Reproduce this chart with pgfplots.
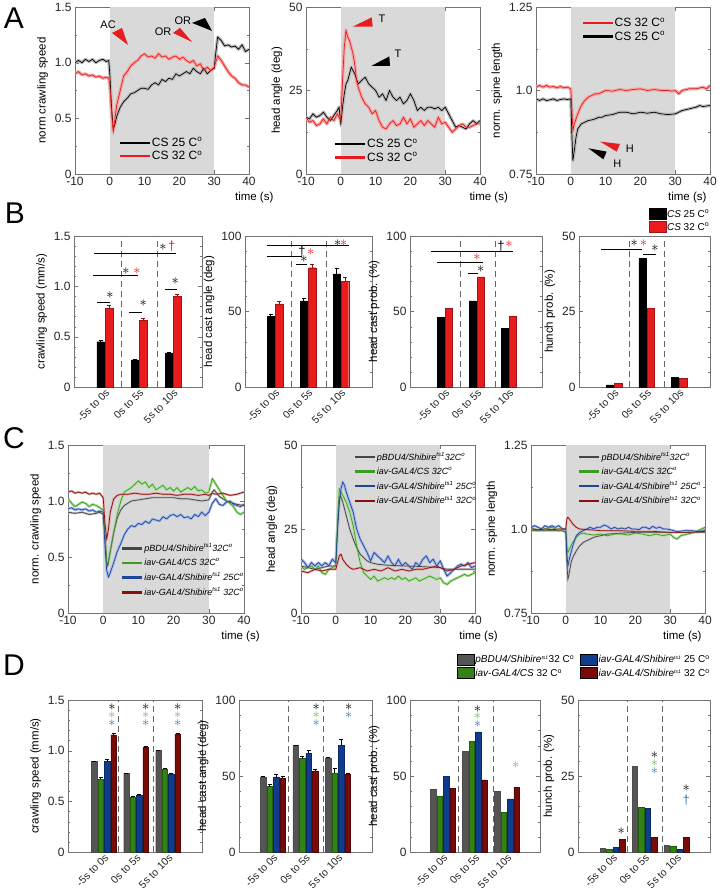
\documentclass[border=0pt]{standalone}
\usepackage{pgfplots}
\usepackage{pgfplotstable}
\pgfplotsset{compat=1.18}
\usepackage{fontspec}
\setmainfont{Liberation Sans}

\definecolor{shade}{RGB}{217,217,217}
\definecolor{cred}{RGB}{232,28,28}
\definecolor{bandk}{RGB}{185,185,185}
\definecolor{bandr}{RGB}{244,165,165}
\definecolor{lgray}{RGB}{70,70,70}
\definecolor{lgreen}{RGB}{60,155,35}
\definecolor{lblue}{RGB}{30,70,155}
\definecolor{lred}{RGB}{135,15,15}
\definecolor{bgray}{RGB}{190,190,190}
\definecolor{bgreen}{RGB}{175,225,155}
\definecolor{bblue}{RGB}{165,185,235}
\definecolor{bred}{RGB}{225,165,165}
\definecolor{dgray}{RGB}{85,85,85}
\definecolor{dgreen}{RGB}{50,130,20}
\definecolor{dblue}{RGB}{15,60,140}
\definecolor{dred}{RGB}{120,10,10}
\definecolor{sgreen}{RGB}{110,185,80}
\definecolor{sblue}{RGB}{65,115,185}

% ---------------- A data ----------------
\pgfplotstableread{
x y
-10 1.00
-9 1.02
-8 1.00
-7 1.03
-6 1.01
-5 1.03
-4 1.00
-3 1.02
-2 1.03
-1 1.01
-0.3 1.02
0 0.90
0.5 0.60
1 0.40
1.5 0.45
2 0.52
3 0.60
4 0.65
5 0.68
6 0.72
7 0.73
8 0.75
9 0.77
10 0.77
11 0.76
12 0.80
13 0.82
14 0.80
15 0.85
16 0.83
17 0.86
18 0.85
19 0.90
20 0.88
21 0.90
22 0.92
23 0.90
24 0.95
25 0.92
26 0.90
27 0.95
28 0.90
29 0.93
30 0.95
30.5 1.10
31 1.23
32 1.20
33 1.15
34 1.16
35 1.14
36 1.15
37 1.12
38 1.16
39 1.10
40 1.12
}\tAonek
\pgfplotstableread{
x y
-10 0.90
-9 0.92
-8 0.89
-7 0.90
-6 0.88
-5 0.89
-4 0.87
-3 0.88
-2 0.86
-1 0.87
-0.3 0.86
0 0.80
0.5 0.55
1 0.38
1.5 0.50
2 0.62
3 0.75
4 0.88
5 0.92
6 0.97
7 1.00
8 1.02
9 1.06
10 1.08
11 1.05
12 1.06
13 1.04
14 1.08
15 1.05
16 1.06
17 1.03
18 1.05
19 1.06
20 1.03
21 1.05
22 1.02
23 1.00
24 1.02
25 0.97
26 0.99
27 0.93
28 0.96
29 0.93
30 0.96
31 1.06
32 1.02
33 0.97
34 0.92
35 0.88
36 0.86
37 0.82
38 0.80
39 0.80
40 0.78
}\tAoner
\pgfplotstableread{
x y
-10 17
-9 16.5
-8 18
-7 17
-6 17.5
-5 18.5
-4 17
-3 16
-2 17.5
-1 19
-0.5 20
0 15
0.5 20
1 24
1.5 27
2 28
2.5 30
3 32
3.5 31
4 30
5 27
6 28
7 29
8 27
9 26
10 25
11 23
12 24
13 22
14 25
15 23
16 22
17 23
18 21
19 22
20 24
21 22
22 19
23 20
24 19
25 20
26 20
27 19.5
28 20
29 19
30 20
31 18
32 16
33 14
34 14.5
35 14
36 13.5
37 15
38 16
39 15
40 16
}\tAtwok
\pgfplotstableread{
x y
-10 17
-9 15.5
-8 16
-7 14.5
-6 15
-5 16.5
-4 15
-3 17
-2 16
-1 18
0 16
0.5 28
1 38
1.5 43
2 41
2.5 40
3 38
3.5 36
4 33
4.5 28
5 26
6 23
7 21
8 20
9 18
10 19
11 16
12 14
13 13.5
14 15
15 16
16 14.5
17 15
18 17
19 15
20 16.5
21 14
22 15
23 16
24 14.5
25 16
26 15
27 14
28 17
29 15
30 15.5
31 14
32 12.5
33 13.5
34 14.5
35 15
36 14
37 14
38 14.5
39 15
40 15
}\tAtwor
\pgfplotstableread{
x y
-10 1.010
-9 1.015
-8 1.010
-7 1.015
-6 1.010
-5 1.012
-4 1.008
-3 1.012
-2 1.008
-1 1.010
0 1.005
0.3 0.950
0.6 0.880
1 0.900
2 0.930
3 0.955
4 0.970
5 0.980
6 0.985
7 0.990
8 0.990
9 0.995
10 1.000
12 0.998
14 1.003
16 1.000
18 1.003
20 1.005
22 1.000
24 1.003
26 1.000
28 1.000
29 0.998
30 1.000
31 0.990
32 1.000
34 1.005
36 1.005
38 1.010
39 1.005
40 1.015
}\tAthreer
\pgfplotstableread{
x y
-10 0.975
-9 0.970
-8 0.975
-7 0.970
-6 0.972
-5 0.975
-4 0.970
-3 0.973
-2 0.975
-1 0.973
0 0.975
0.3 0.870
0.6 0.790
1 0.820
1.5 0.860
2 0.885
3 0.900
4 0.905
5 0.910
6 0.912
7 0.915
8 0.920
9 0.920
10 0.925
12 0.928
14 0.935
16 0.935
18 0.930
20 0.935
22 0.932
24 0.935
26 0.930
28 0.928
30 0.930
32 0.940
34 0.945
36 0.950
37 0.955
38 0.952
40 0.955
}\tAthreek

% ---------------- C data ----------------
\pgfplotstableread{
x y
-10 0.90
-8 0.89
-6 0.90
-4 0.88
-2 0.89
-1 0.90
0 0.88
0.5 0.70
1 0.45
1.3 0.42
2 0.55
3 0.72
4 0.85
5 0.92
6 0.96
7 0.98
8 1.00
10 1.01
12 1.02
14 1.03
16 1.03
18 1.03
20 1.03
22 1.02
24 1.02
26 1.01
28 1.00
30 1.01
31 1.08
31.5 1.10
32 1.08
33 1.04
34 1.02
35 1.00
36 0.99
38 0.97
40 0.96
}\tConek
\pgfplotstableread{
x y
-10 1.02
-9 0.98
-8 0.95
-7 0.97
-6 0.99
-5 0.98
-4 0.95
-3 0.97
-2 0.96
-1 0.94
0 0.92
0.5 0.70
1 0.45
1.5 0.45
2 0.55
3 0.72
4 0.88
5 1.00
6 1.08
7 1.10
8 1.12
9 1.15
10 1.18
11 1.15
12 1.17
13 1.12
14 1.15
15 1.10
16 1.12
17 1.14
18 1.10
19 1.12
20 1.09
21 1.12
22 1.08
23 1.10
24 1.12
25 1.10
26 1.13
27 1.09
28 1.10
29 1.07
30 1.08
31 1.20
32 1.15
33 1.10
34 1.05
35 1.00
36 0.98
37 0.95
38 0.90
39 0.88
40 0.90
}\tConeg
\pgfplotstableread{
x y
-10 0.93
-9 0.94
-8 0.92
-7 0.93
-6 0.92
-5 0.93
-4 0.91
-3 0.92
-2 0.90
-1 0.91
0 0.90
0.5 0.60
1 0.38
1.5 0.32
2 0.36
3 0.45
4 0.55
5 0.62
6 0.70
7 0.75
8 0.78
9 0.77
10 0.80
11 0.79
12 0.82
13 0.80
14 0.84
15 0.83
16 0.82
17 0.86
18 0.84
19 0.87
20 0.88
21 0.86
22 0.88
23 0.85
24 0.86
25 0.84
26 0.88
27 0.86
28 0.90
29 0.87
30 0.90
31 0.98
32 1.02
33 0.97
34 0.96
35 0.99
36 1.00
37 0.97
38 0.96
39 0.95
40 0.97
}\tConeb
\pgfplotstableread{
x y
-10 1.08
-9 1.09
-8 1.07
-7 1.08
-6 1.07
-5 1.08
-4 1.06
-3 1.07
-2 1.06
-1 1.07
0 1.03
0.5 0.80
1 0.66
1.5 0.75
2 0.90
3 1.02
4 1.05
5 1.06
7 1.06
9 1.07
11 1.06
13 1.06
15 1.07
17 1.06
19 1.06
21 1.05
23 1.06
25 1.06
27 1.05
29 1.06
30 1.05
31 1.07
32 1.06
34 1.07
36 1.05
38 1.06
40 1.08
}\tConer
\pgfplotstableread{
x y
-10 14
-8 13.5
-6 13
-4 13.5
-2 14
0 14
0.5 25
1 33
1.3 35
2 33
3 29
4 25
5 22
6 19.5
7 17.5
8 16.5
9 15.5
10 15
12 14.5
15 14.2
20 14
25 13.8
30 13.5
32 13
35 13
40 13
}\tCtwok
\pgfplotstableread{
x y
-10 14
-9 13
-8 13.5
-7 14
-6 13
-5 14
-4 12
-3 11.5
-2 13
-1 13.5
0 14
0.5 28
1 37
1.5 36
2 35
3 33
4 30
5 26
6 20
7 15
8 12
9 11
10 10
11 11
12 9.5
13 10
14 10.5
15 10
16 10.5
17 10
18 11
19 10
20 10.5
21 9.5
22 10
23 10.5
24 9.5
25 10
26 10.5
27 11
28 10.5
29 10
30 10.5
31 9
32 8.5
33 9.5
34 10
35 10.5
36 11
37 11.5
38 11
39 11.5
40 12
}\tCtwog
\pgfplotstableread{
x y
-10 16
-9 15
-8 13.5
-7 15
-6 14
-5 15
-4 14
-3 15
-2 14
-1 16
0 15
0.5 25
1 33
1.5 37
2 39
2.5 38
3 36
4 33
5 30
6 25
7 22
8 20
9 18
10 15.5
11 18
12 17
13 16
14 15
15 17
16 15
17 14
18 16
19 14
20 15
21 14
22 13
23 15
24 14
25 16
26 17
27 15
28 16
29 14
30 15.5
31 13
32 11
33 12
34 13
35 14
36 14.5
37 14
38 15
39 13.5
40 14
}\tCtwob
\pgfplotstableread{
x y
-10 12.5
-8 12
-6 13
-4 12.5
-2 13
0 13
0.5 15
1 17
1.5 17.5
2 16
3 14.5
4 13.5
5 13
7 13.5
9 12.5
11 13
13 12.5
15 13.5
17 12.5
19 13
21 12.5
23 13
25 13
27 13.5
29 14
30 13.5
32 12.5
34 13
36 14
38 14.5
40 15
}\tCtwor
\pgfplotstableread{
x y
-10 0.995
-5 0.995
-1 0.995
0 0.990
0.3 0.900
0.6 0.850
1 0.870
1.5 0.900
2 0.915
3 0.935
4 0.950
5 0.960
6 0.965
7 0.970
8 0.975
9 0.978
10 0.980
12 0.985
15 0.987
20 0.990
25 0.990
30 0.990
35 0.990
40 0.990
}\tCthreek
\pgfplotstableread{
x y
-10 1.005
-8 0.995
-6 1.000
-4 1.005
-2 0.995
0 1.000
0.3 0.950
0.6 0.930
1 0.940
2 0.960
3 0.975
4 0.985
5 0.988
6 0.985
8 0.982
10 0.985
12 0.980
14 0.985
16 0.985
18 0.982
20 0.988
22 0.985
24 0.980
26 0.985
28 0.980
30 0.985
31 0.975
32 0.970
33 0.980
35 0.985
37 0.990
39 1.000
40 1.005
}\tCthreeg
\pgfplotstableread{
x y
-10 1.005
-9 1.010
-8 1.005
-7 1.000
-6 1.010
-5 1.005
-4 1.010
-3 1.005
-2 1.010
-1 1.000
0 1.000
0.3 0.930
0.6 0.890
1 0.910
2 0.950
3 0.980
4 0.990
5 0.995
6 1.000
7 1.005
8 1.000
9 1.005
10 1.005
11 1.012
12 1.008
13 1.000
14 1.005
15 1.000
16 1.003
17 1.000
18 1.005
19 1.000
20 1.000
21 0.998
22 1.005
23 1.005
24 1.000
25 1.008
26 1.002
27 1.006
28 1.000
29 1.000
30 0.998
32 0.992
34 0.995
36 0.995
38 0.993
40 0.995
}\tCthreeb
\pgfplotstableread{
x y
-10 1.000
-8 0.998
-6 1.000
-4 0.998
-2 1.000
0 1.000
0.3 1.030
0.6 1.035
1 1.030
2 1.015
3 1.005
4 1.000
6 0.998
8 0.997
10 0.995
15 0.995
20 0.993
25 0.993
30 0.990
32 0.990
35 0.990
38 0.992
40 0.993
}\tCthreer

\pgfplotsset{
  base/.style={scale only axis, anchor=south west, clip=true,
    axis line style={draw=black!55}, tick style={draw=black!55},
    tick align=inside, major tick length=4pt, minor tick length=2pt,
    ticklabel style={font=\fontsize{12}{13}\selectfont, text=black!85},
    label style={font=\fontsize{11.5}{13}\selectfont},
    /pgf/number format/assume math mode=true},
  lin/.style={base, xmin=-10, xmax=40, xtick={-10,0,10,20,30,40},
    minor y tick num=1, xlabel={time (s)},
    legend cell align=left,
    legend style={draw=none, fill=none, inner sep=0pt, row sep=1pt,
      nodes={inner sep=1pt}, font=\fontsize{12}{13}\selectfont}},
  bars/.style={base, ymin=0, xtick={1,2,3},
    xticklabels={-5s to 0s,0s to 5s,5s to 10s},
    xticklabel style={rotate=45, anchor=north east, font=\fontsize{10.5}{12}\selectfont, inner sep=1pt},
    major x tick style={draw=none}, minor y tick num=4},
  band/.style={line width=3.2pt, forget plot, line join=round},
  thinl/.style={line width=0.7pt},
  Aleg/.style={legend image code/.code={\draw[##1, line width=2.2pt] (0pt,0pt) -- (30pt,0pt);}},
  Cleg/.style={legend image code/.code={\draw[##1, line width=2.4pt] (0pt,0pt) -- (20pt,0pt);},
    legend style={font=\fontsize{9}{10}\selectfont, row sep=3.5pt, nodes={inner sep=1pt}}},
  boxleg/.style={legend image code/.code={\fill[##1] (0pt,-5pt) rectangle (17pt,6pt);}},
  bbar/.style={ybar, bar width=0.22, bar shift=0pt},
  dbar/.style={ybar, bar width=0.17, bar shift=0pt},
  ebar/.style={/pgfplots/error bars/y dir=plus, /pgfplots/error bars/y explicit,
    /pgfplots/error bars/error bar style={#1, line width=0.8pt}},
}

\newcommand{\st}[3][black]{\node[text=#1, font=\fontsize{14}{14}\selectfont, inner sep=0pt] at (axis cs:#2,#3) {$\mathord{*}$};}
\newcommand{\dg}[3][black]{\node[text=#1, font=\fontsize{13}{13}\selectfont, inner sep=0pt] at (axis cs:#2,#3) {\dag};}
\newcommand{\hl}[3]{\draw[black, line width=0.8pt] (axis cs:#1,#3) -- (axis cs:#2,#3);}
\newcommand{\vd}[2]{\draw[black!60, dash pattern=on 6pt off 4pt, line width=0.6pt] (axis cs:#1,0) -- (axis cs:#1,#2);}
\newcommand{\degC}{C\textsuperscript{o}}

\begin{document}
\begin{tikzpicture}
\path[use as bounding box] (0,0) rectangle (719pt,-893pt);
\node[font=\fontsize{30}{30}\selectfont] at (14pt,-18pt) {A};
\node[font=\fontsize{30}{30}\selectfont] at (15pt,-213pt) {B};
\node[font=\fontsize{30}{30}\selectfont] at (14pt,-438pt) {C};
\node[font=\fontsize{30}{30}\selectfont] at (14pt,-665pt) {D};

% ================= A1 =================
\begin{axis}[lin, Aleg, at={(75pt,-174pt)}, width=174pt, height=167pt,
  ymin=0, ymax=1.5, ytick={0,0.5,1,1.5}, yticklabels={0,0.5,1.0,1.5},
  ylabel={norm crawling speed},
  xlabel style={at={(rel axis cs:1.03,0)}, anchor=north, yshift=-15pt},
  legend style={at={(rel axis cs:0.25,0.225)}, anchor=north west}]
\addplot[fill=shade, draw=none, forget plot] coordinates {(0,1.5) (30,1.5)} \closedcycle;
\addplot[bandk, band] table {\tAonek};
\addplot[bandr, band] table {\tAoner};
\addplot[black, thinl] table {\tAonek};
\addplot[cred, thinl] table {\tAoner};
\legend{CS 25 \degC, CS 32 \degC}
\fill[cred] (axis cs:0.63,1.267) -- (axis cs:3.5,1.312) -- (axis cs:5.23,1.159) -- cycle;
\fill[cred] (axis cs:18.17,1.267) -- (axis cs:20.18,1.312) -- (axis cs:23.63,1.186) -- cycle;
\fill[black] (axis cs:23.63,1.357) -- (axis cs:27.36,1.402) -- (axis cs:29.37,1.285) -- cycle;
\node[font=\fontsize{11}{12}\selectfont] at (axis cs:-0.5,1.34) {AC};
\node[font=\fontsize{11}{12}\selectfont] at (axis cs:15.3,1.28) {OR};
\node[font=\fontsize{11}{12}\selectfont] at (axis cs:21,1.38) {OR};
\end{axis}

% ================= A2 =================
\begin{axis}[lin, Aleg, at={(306pt,-174pt)}, width=174pt, height=167pt,
  ymin=0, ymax=50, ytick={0,25,50}, yticklabels={0,25,50},
  ylabel={head angle (deg)},
  xlabel style={at={(rel axis cs:1.05,0)}, anchor=north, yshift=-15pt},
  legend style={at={(rel axis cs:0.16,0.215)}, anchor=north west}]
\addplot[fill=shade, draw=none, forget plot] coordinates {(0,50) (30,50)} \closedcycle;
\addplot[bandk, band] table {\tAtwok};
\addplot[bandr, band] table {\tAtwor};
\addplot[black, thinl] table {\tAtwok};
\addplot[cred, thinl] table {\tAtwor};
\legend{CS 25 \degC, CS 32 \degC}
\fill[cred] (axis cs:3.42,44.1) -- (axis cs:8.88,46.9) -- (axis cs:9.17,44.1) -- cycle;
\fill[black] (axis cs:8.87,32.4) -- (axis cs:13.94,35.2) -- (axis cs:14.14,32.4) -- cycle;
\node[font=\fontsize{11}{12}\selectfont] at (axis cs:11.8,46.6) {T};
\node[font=\fontsize{11}{12}\selectfont] at (axis cs:16.4,36) {T};
\end{axis}

% ================= A3 =================
\begin{axis}[lin, Aleg, at={(536pt,-174pt)}, width=174pt, height=167pt,
  ymin=0.75, ymax=1.25, ytick={0.75,1,1.25}, yticklabels={0.75,1.0,1.25},
  ylabel={norm. spine length},
  xlabel style={at={(rel axis cs:1,0)}, anchor=north east, yshift=-15pt},
  legend style={at={(rel axis cs:0.26,0.94)}, anchor=north west}]
\addplot[fill=shade, draw=none, forget plot] coordinates {(0,1.25) (30,1.25)} \closedcycle;
\addplot[bandr, band] table {\tAthreer};
\addplot[bandk, band] table {\tAthreek};
\addplot[cred, thinl] table {\tAthreer};
\addplot[black, thinl] table {\tAthreek};
\legend{CS 32 \degC, CS 25 \degC}
\fill[cred] (axis cs:8.39,0.847) -- (axis cs:14.14,0.840) -- (axis cs:13.19,0.817) -- cycle;
\fill[black] (axis cs:5.03,0.827) -- (axis cs:10.3,0.817) -- (axis cs:9.35,0.794) -- cycle;
\node[font=\fontsize{11}{12}\selectfont] at (axis cs:17,0.825) {H};
\node[font=\fontsize{11}{12}\selectfont] at (axis cs:13.4,0.782) {H};
\end{axis}

% ================= B1 =================
\begin{axis}[bars, at={(74pt,-387pt)}, width=128pt, height=151pt,
  xmin=0.09, xmax=3.85, ymax=1.5, ytick={0,0.5,1,1.5}, yticklabels={0,0.5,1.0,1.5},
  ylabel={crawling speed (mm/s)}]
\vd{1.47}{1.5} \vd{2.53}{1.5}
\addplot[bbar, fill=black, draw=black, ebar=black]
  coordinates {(0.875,0.45) +- (0,0.01) (1.875,0.27) +- (0,0.01) (2.875,0.34) +- (0,0.01)};
\addplot[bbar, fill=cred, draw=cred!70!black, ebar=cred!60!black]
  coordinates {(1.125,0.78) +- (0,0.03) (2.125,0.66) +- (0,0.02) (3.125,0.90) +- (0,0.025)};
\hl{0.78}{1.15}{0.84} \st{1.15}{0.91}
\hl{1.70}{2.10}{0.74} \st{2.12}{0.83}
\hl{2.75}{3.13}{0.97} \st{3.06}{1.05}
\hl{0.65}{1.97}{1.11} \st{1.62}{1.15} \st[cred]{1.94}{1.15}
\hl{0.68}{3.09}{1.33} \st{2.70}{1.39} \dg[cred]{2.96}{1.40}
\end{axis}

% ================= B2 =================
\begin{axis}[bars, at={(245pt,-387pt)}, width=127pt, height=151pt,
  xmin=0.09, xmax=3.94, ymax=100, ytick={0,50,100}, yticklabels={0,50,100},
  ylabel={head cast angle (deg)}]
\vd{1.48}{100} \vd{2.55}{100}
\addplot[bbar, fill=black, draw=black, ebar=black]
  coordinates {(0.875,47) +- (0,1.5) (1.875,57) +- (0,2) (2.875,75) +- (0,4)};
\addplot[bbar, fill=cred, draw=cred!70!black, ebar=cred!60!black]
  coordinates {(1.125,55) +- (0,2) (2.125,79) +- (0,2) (3.125,70) +- (0,3)};
\hl{1.64}{1.98}{81.5} \st{1.88}{85}
\hl{0.76}{1.82}{86.8} \dg{1.82}{90} \st[cred]{2.08}{89.5}
\hl{0.76}{3.24}{93.5} \st{2.9}{95.5} \st[cred]{3.08}{95.5}
\end{axis}

% ================= B3 =================
\begin{axis}[bars, at={(410pt,-387pt)}, width=132pt, height=151pt,
  xmin=-0.09, xmax=4.03, ymax=100, ytick={0,50,100}, yticklabels={0,50,100},
  ylabel={head cast prob. (\%)}]
\vd{1.47}{100} \vd{2.56}{100}
\addplot[bbar, fill=black, draw=black]
  coordinates {(0.875,46) (1.875,57) (2.875,39)};
\addplot[bbar, fill=cred, draw=cred!70!black]
  coordinates {(1.125,52) (2.125,73) (3.125,47)};
\hl{1.72}{2.02}{75} \st{2.12}{78}
\hl{0.75}{2.19}{82.7} \st[cred]{2.0}{86}
\hl{0.56}{3.12}{90} \dg{2.75}{93.5} \st[cred]{3.0}{94.5}
\end{axis}

% ================= B4 =================
\begin{axis}[bars, boxleg, at={(579pt,-387pt)}, width=131pt, height=151pt,
  xmin=-0.08, xmax=3.95, ymax=50, ytick={0,25,50}, yticklabels={0,25,50},
  ylabel={hunch prob. (\%)},
  legend cell align=left,
  legend style={draw=none, fill=none, inner sep=0pt, row sep=1.5pt,
    nodes={inner sep=1pt}, font=\fontsize{10}{11}\selectfont,
    at={(rel axis cs:0.53,1.02)}, anchor=south west}]
\vd{1.46}{50} \vd{2.54}{50}
\addplot[bbar, fill=black, draw=black]
  coordinates {(0.875,0.7) (1.875,42.5) (2.875,3.2)};
\addplot[bbar, fill=cred, draw=cred!70!black]
  coordinates {(1.125,1.2) (2.125,26) (3.125,2.8)};
\legend{\textit{CS} 25 \degC, \textit{CS} 32 \degC}
\hl{0.6}{1.86}{45.7} \st{1.62}{47.5} \st[cred]{1.9}{47.5}
\hl{1.9}{2.3}{44} \st{2.26}{46}
\end{axis}

% ================= C1 =================
\begin{axis}[lin, Cleg, at={(68pt,-613pt)}, width=176pt, height=168pt,
  ymin=0, ymax=1.5, ytick={0,0.5,1,1.5}, yticklabels={0,0.5,1.0,1.5},
  ylabel={norm. crawling speed},
  xlabel style={at={(rel axis cs:0.98,0)}, anchor=north, yshift=-15pt},
  legend style={at={(rel axis cs:0.3,0.42)}, anchor=north west}]
\addplot[fill=shade, draw=none, forget plot] coordinates {(0,1.5) (30,1.5)} \closedcycle;
\addplot[bgreen, band, line width=2.6pt] table {\tConeg};
\addplot[bblue, band, line width=2.6pt] table {\tConeb};
\addplot[bgray, band, line width=2.2pt] table {\tConek};
\addplot[bred, band, line width=2.2pt] table {\tConer};
\addplot[lgray, thinl] table {\tConek};
\addplot[lgreen, thinl] table {\tConeg};
\addplot[lblue, thinl] table {\tConeb};
\addplot[lred, thinl] table {\tConer};
\legend{\textit{pBDU4/Shibire}\textsuperscript{\textit{ts1}}\textit{32\degC},
  \textit{iav-GAL4/CS 32\degC},
  \textit{iav-GAL4/Shibire}\textsuperscript{\textit{ts1}} \textit{25\degC},
  \textit{iav-GAL4/Shibire}\textsuperscript{\textit{ts1}} \textit{32\degC}}
\end{axis}

% ================= C2 =================
\begin{axis}[lin, Cleg, at={(301pt,-613pt)}, width=174pt, height=168pt,
  ymin=0, ymax=50, ytick={0,25,50}, yticklabels={0,25,50},
  ylabel={head angle (deg)},
  xlabel style={at={(rel axis cs:1.02,0)}, anchor=north, yshift=-15pt},
  legend style={at={(rel axis cs:0.3,0.965)}, anchor=north west}]
\addplot[fill=shade, draw=none, forget plot] coordinates {(0,50) (30,50)} \closedcycle;
\addplot[bgreen, band, line width=2.6pt] table {\tCtwog};
\addplot[bblue, band, line width=2.8pt] table {\tCtwob};
\addplot[bgray, band, line width=2.2pt] table {\tCtwok};
\addplot[bred, band, line width=2.2pt] table {\tCtwor};
\addplot[lgray, thinl] table {\tCtwok};
\addplot[lgreen, thinl] table {\tCtwog};
\addplot[lblue, thinl] table {\tCtwob};
\addplot[lred, thinl] table {\tCtwor};
\legend{\textit{pBDU4/Shibire}\textsuperscript{\textit{ts1}}\textit{32\degC},
  \textit{iav-GAL4/CS 32\degC},
  \textit{iav-GAL4/Shibire}\textsuperscript{\textit{ts1}} \textit{25\degC},
  \textit{iav-GAL4/Shibire}\textsuperscript{\textit{ts1}} \textit{32\degC}}
\end{axis}

% ================= C3 =================
\begin{axis}[lin, Cleg, at={(531pt,-613pt)}, width=174pt, height=168pt,
  ymin=0.75, ymax=1.25, ytick={0.75,1,1.25}, yticklabels={0.75,1.0,1.25},
  ylabel={norm. spine length},
  xlabel style={at={(rel axis cs:1,0)}, anchor=north east, yshift=-15pt},
  legend style={at={(rel axis cs:0.27,0.965)}, anchor=north west}]
\addplot[fill=shade, draw=none, forget plot] coordinates {(0,1.25) (30,1.25)} \closedcycle;
\addplot[bgreen, band, line width=2.4pt] table {\tCthreeg};
\addplot[bblue, band, line width=2.4pt] table {\tCthreeb};
\addplot[bgray, band, line width=2.0pt] table {\tCthreek};
\addplot[bred, band, line width=2.0pt] table {\tCthreer};
\addplot[lgray, thinl] table {\tCthreek};
\addplot[lgreen, thinl] table {\tCthreeg};
\addplot[lblue, thinl] table {\tCthreeb};
\addplot[lred, thinl] table {\tCthreer};
\legend{\textit{pBDU4/Shibire}\textsuperscript{\textit{ts1}}\textit{32\degC},
  \textit{iav-GAL4/CS 32\degC},
  \textit{iav-GAL4/Shibire}\textsuperscript{\textit{ts1}} \textit{25\degC},
  \textit{iav-GAL4/Shibire}\textsuperscript{\textit{ts1}} \textit{32\degC}}
\end{axis}

% ================= D1 =================
\begin{axis}[bars, at={(68pt,-852pt)}, width=134pt, height=152pt,
  xmin=-0.125, xmax=4.06, ymax=1.5, ytick={0,0.5,1,1.5}, yticklabels={0,0.5,1.0,1.5},
  ylabel={crawling speed (mm/s)}]
\vd{1.44}{1.5} \vd{2.53}{1.5}
\addplot[dbar, fill=dgray, draw=black!70, ebar=black] coordinates {(0.7,0.895) +- (0,0.005) (1.7,0.775) +- (0,0.005) (2.7,1.0) +- (0,0.005)};
\addplot[dbar, fill=dgreen, draw=dgreen!70!black, ebar=black] coordinates {(0.9,0.72) +- (0,0.015) (1.9,0.545) +- (0,0.01) (2.9,0.82) +- (0,0.012)};
\addplot[dbar, fill=dblue, draw=dblue!70!black, ebar=black] coordinates {(1.1,0.895) +- (0,0.02) (2.1,0.56) +- (0,0.01) (3.1,0.77) +- (0,0.012)};
\addplot[dbar, fill=dred, draw=dred!70!black, ebar=black] coordinates {(1.3,1.155) +- (0,0.015) (2.3,1.03) +- (0,0.01) (3.3,1.165) +- (0,0.01)};
\st{1.25}{1.43} \st[sgreen]{1.25}{1.35} \st[sblue]{1.25}{1.27}
\st{2.3}{1.43} \st[sgreen]{2.3}{1.35} \st[sblue]{2.3}{1.27}
\st{3.3}{1.43} \st[sgreen]{3.3}{1.35} \st[sblue]{3.3}{1.27}
\end{axis}

% ================= D2 =================
\begin{axis}[bars, at={(239pt,-852pt)}, width=133pt, height=152pt,
  xmin=-0.046, xmax=4.05, ymax=100, ytick={0,50,100}, yticklabels={0,50,100},
  ylabel={head cast angle (deg)}]
\vd{1.46}{100} \vd{2.55}{100}
\addplot[dbar, fill=dgray, draw=black!70, ebar=black] coordinates {(0.7,49.5) +- (0,0.5) (1.7,70) +- (0,0.5) (2.7,62) +- (0,0.5)};
\addplot[dbar, fill=dgreen, draw=dgreen!70!black, ebar=black] coordinates {(0.9,43) +- (0,1.5) (1.9,61.5) +- (0,1.5) (2.9,52) +- (0,3)};
\addplot[dbar, fill=dblue, draw=dblue!70!black, ebar=black] coordinates {(1.1,49.5) +- (0,1.8) (2.1,65) +- (0,2) (3.1,70) +- (0,4)};
\addplot[dbar, fill=dred, draw=dred!70!black, ebar=black] coordinates {(1.3,48.8) +- (0,1.2) (2.3,53.4) +- (0,1.2) (3.3,51) +- (0,1)};
\st{2.33}{95.5} \st[sgreen]{2.33}{90} \st[sblue]{2.33}{84.5}
\st{3.33}{95.5} \st[sblue]{3.33}{90}
\end{axis}

% ================= D3 =================
\begin{axis}[bars, boxleg, at={(410pt,-852pt)}, width=130pt, height=152pt,
  xmin=-0.03, xmax=4.03, ymax=100, ytick={0,50,100}, yticklabels={0,50,100},
  ylabel={head cast prob. (\%)},
  legend cell align=left, legend columns=2,
  legend style={draw=none, fill=none, inner sep=0pt, row sep=2pt,
    nodes={inner sep=1pt}, font=\fontsize{10}{11}\selectfont,
    /tikz/every even column/.append style={column sep=5pt},
    at={(rel axis cs:0.36,1.305)}, anchor=north west}]
\vd{1.47}{100} \vd{2.56}{100}
\addplot[dbar, fill=dgray, draw=black!70, forget plot] coordinates {(0.7,41) (1.7,66) (2.7,40)};
\addplot[dbar, fill=dgreen, draw=dgreen!70!black, forget plot] coordinates {(0.9,37) (1.9,73) (2.9,26)};
\addplot[dbar, fill=dblue, draw=dblue!70!black, forget plot] coordinates {(1.1,50) (2.1,79) (3.1,35)};
\addplot[dbar, fill=dred, draw=dred!70!black, forget plot] coordinates {(1.3,42) (2.3,47.5) (3.3,42.5)};
\addlegendimage{fill=dgray}
\addlegendentry{\textit{pBDU4/Shibire}\textsuperscript{\tiny\textit{ts1}}32 \degC}
\addlegendimage{fill=dblue}
\addlegendentry{\textit{iav-GAL4/Shibire}\textsuperscript{\tiny\textit{ts1}} 25 \degC}
\addlegendimage{fill=dgreen}
\addlegendentry{\textit{iav-GAL4/CS} 32 \degC}
\addlegendimage{fill=dred}
\addlegendentry{\textit{iav-GAL4/Shibire}\textsuperscript{\tiny\textit{ts1}} 32 \degC}
\st{2.08}{94} \st[sgreen]{2.08}{89.5} \st[sblue]{2.08}{84}
\st[sgreen]{3.27}{57}
\end{axis}

% ================= D4 =================
\begin{axis}[bars, at={(578pt,-852pt)}, width=132pt, height=152pt,
  xmin=-0.08, xmax=4.045, ymax=50, ytick={0,25,50}, yticklabels={0,25,50},
  ylabel={hunch prob. (\%)}]
\vd{1.45}{50} \vd{2.55}{50}
\addplot[dbar, fill=dgray, draw=black!70] coordinates {(0.7,1.2) (1.7,28.2) (2.7,2.2)};
\addplot[dbar, fill=dgreen, draw=dgreen!70!black] coordinates {(0.9,0.8) (1.9,14.6) (2.9,2.0)};
\addplot[dbar, fill=dblue, draw=dblue!70!black] coordinates {(1.1,1.5) (2.1,14.4) (3.1,0.9)};
\addplot[dbar, fill=dred, draw=dred!70!black] coordinates {(1.3,4.1) (2.3,4.9) (3.3,4.9)};
\st{1.27}{6.8}
\st{2.31}{31.8} \st[sgreen]{2.31}{29.2} \st[sblue]{2.31}{26.6}
\st{3.3}{21} \dg[sblue]{3.3}{17}
\end{axis}
\end{tikzpicture}
\end{document}
